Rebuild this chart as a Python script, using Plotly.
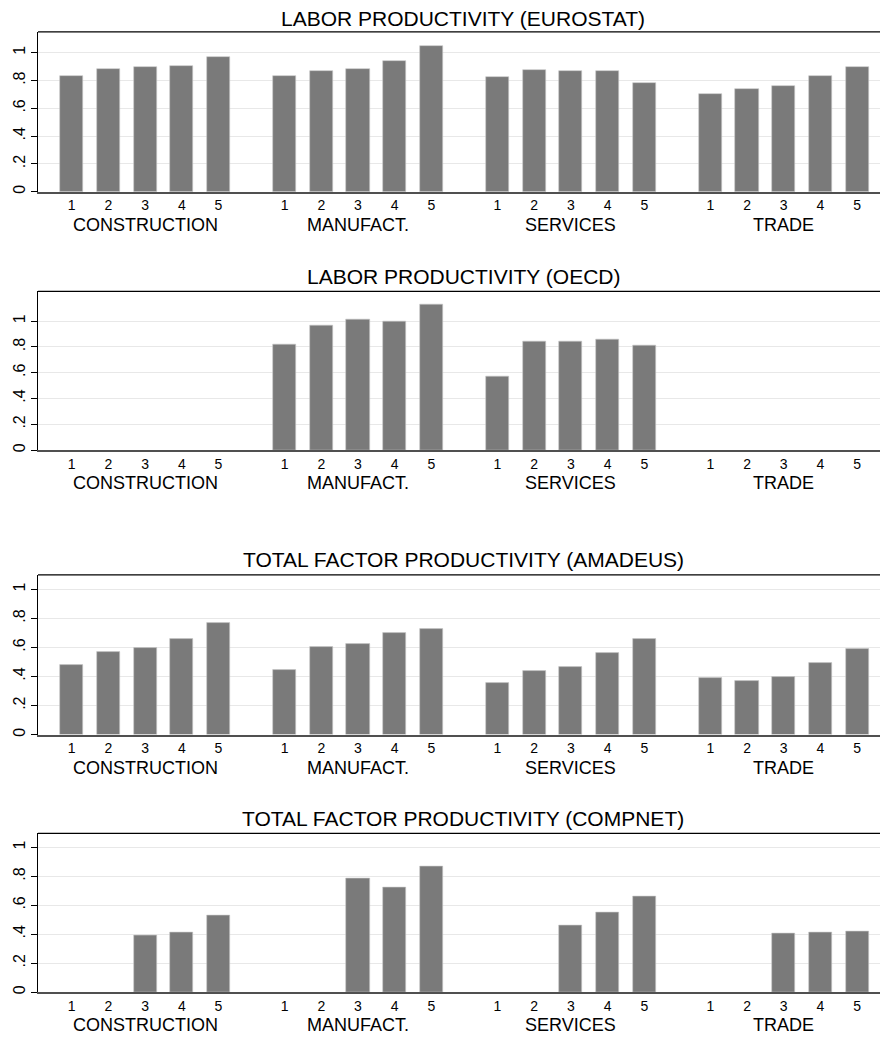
import plotly.graph_objects as go

# ---------------- data ----------------
groups = ["CONSTRUCTION", "MANUFACT.", "SERVICES", "TRADE"]
quintiles = ["1", "2", "3", "4", "5"]

titles = [
    "LABOR PRODUCTIVITY (EUROSTAT)",
    "LABOR PRODUCTIVITY (OECD)",
    "TOTAL FACTOR PRODUCTIVITY (AMADEUS)",
    "TOTAL FACTOR PRODUCTIVITY (COMPNET)",
]

lp_eurostat = {
    "CONSTRUCTION": [0.835, 0.885, 0.897, 0.904, 0.971],
    "MANUFACT.":    [0.833, 0.868, 0.885, 0.940, 1.048],
    "SERVICES":     [0.825, 0.875, 0.870, 0.870, 0.784],
    "TRADE":        [0.705, 0.743, 0.763, 0.835, 0.899],
}
lp_oecd = {
    "CONSTRUCTION": [None, None, None, None, None],
    "MANUFACT.":    [0.819, 0.969, 1.011, 1.000, 1.132],
    "SERVICES":     [0.574, 0.843, 0.843, 0.861, 0.809],
    "TRADE":        [None, None, None, None, None],
}
tfp_amadeus = {
    "CONSTRUCTION": [0.480, 0.572, 0.598, 0.662, 0.772],
    "MANUFACT.":    [0.446, 0.605, 0.626, 0.701, 0.729],
    "SERVICES":     [0.357, 0.439, 0.467, 0.563, 0.660],
    "TRADE":        [0.391, 0.370, 0.398, 0.494, 0.591],
}
tfp_compnet = {
    "CONSTRUCTION": [None, None, 0.395, 0.416, 0.533],
    "MANUFACT.":    [None, None, 0.786, 0.726, 0.869],
    "SERVICES":     [None, None, 0.462, 0.552, 0.662],
    "TRADE":        [None, None, 0.407, 0.414, 0.421],
}
panels = [lp_eurostat, lp_oecd, tfp_amadeus, tfp_compnet]

ytick_vals = [0, 0.2, 0.4, 0.6, 0.8, 1]
ytick_text = ["0", ".2", ".4", ".6", ".8", "1"]
y_tops = [1.15, 1.23, 1.10, 1.097]

# ---------------- layout helpers ----------------
OFF = 8                      # page body margin
W = 888 - OFF
H = 1039 - OFF
pix = [(32, 192), (292, 451), (576, 736), (835, 994)]   # page pixel rows of each plot area
GROUP_STEP = 5.8
BAR_COLOR = "rgb(122,122,122)"
FONT = "Liberation Sans, Arial, sans-serif"

fig = go.Figure()
tickvals = []
ticktext = []
for gi, g in enumerate(groups):
    for qi, q in enumerate(quintiles):
        tickvals.append(gi * GROUP_STEP + qi)
        ticktext.append(q)

layout = dict(
    width=W, height=H,
    margin=dict(l=0, r=0, t=0, b=0),
    paper_bgcolor="white", plot_bgcolor="white",
    showlegend=False,
    font=dict(family=FONT, color="black"),
    bargap=0,
)
annotations = []
shapes = []

for pi, data in enumerate(panels):
    n = "" if pi == 0 else str(pi + 1)
    xa, ya = "x" + n, "y" + n
    xs, ys = [], []
    for gi, g in enumerate(groups):
        for qi in range(len(quintiles)):
            xs.append(gi * GROUP_STEP + qi)
            ys.append(data[g][qi])
    fig.add_trace(go.Bar(
        x=xs, y=ys, xaxis=xa, yaxis=ya, width=0.63,
        marker=dict(color=BAR_COLOR, line=dict(color="rgb(200,200,200)", width=0.6)),
        hoverinfo="skip",
    ))
    top, bot = pix[pi]
    top -= OFF
    bot -= OFF
    dom_y = [1 - bot / H, 1 - top / H]
    layout["xaxis" + n] = dict(
        domain=[(38 - OFF) / W, 1.0], anchor=ya,
        range=[-0.918, 22.24],
        tickmode="array", tickvals=tickvals, ticktext=ticktext,
        tickfont=dict(size=14, family=FONT, color="black"),
        ticks="", showgrid=False, zeroline=False,
        showline=True, linecolor="rgb(80,80,80)", linewidth=2,
        fixedrange=True,
    )
    layout["yaxis" + n] = dict(
        domain=dom_y, anchor=xa,
        range=[0, y_tops[pi]],
        tickmode="array", tickvals=ytick_vals, ticktext=ytick_text,
        tickangle=-90,
        tickfont=dict(size=16, family=FONT, color="black"),
        ticks="outside", ticklen=6, tickcolor="black", tickwidth=1,
        showgrid=True, gridcolor="rgb(232,232,232)", gridwidth=1.4,
        zeroline=False, showline=True, linecolor="black", linewidth=1,
        fixedrange=True,
    )
    # title
    if pi == 0:
        annotations.append(dict(
            text=titles[pi], xref="x domain", yref="paper",
            x=0.5, y=1, yanchor="top", xanchor="center", yshift=3,
            showarrow=False, font=dict(size=21, family=FONT, color="black"),
        ))
    else:
        annotations.append(dict(
            text=titles[pi], xref="x" + n + " domain", yref="y" + n + " domain",
            x=0.5, y=1, yanchor="middle", xanchor="center", yshift=15,
            showarrow=False, font=dict(size=21, family=FONT, color="black"),
        ))
    # group labels
    for gi, g in enumerate(groups):
        annotations.append(dict(
            text=g, xref=xa, yref="y" + n + " domain",
            x=gi * GROUP_STEP + 2, y=0, yanchor="middle", xanchor="center",
            yshift=-33, showarrow=False,
            font=dict(size=18, family=FONT, color="black"),
        ))
    # top frame line
    shapes.append(dict(
        type="line", xref="x" + n + " domain", yref="y" + n + " domain",
        x0=0, x1=1, y0=1, y1=1, line=dict(color="black", width=1.2),
    ))

layout["annotations"] = annotations
layout["shapes"] = shapes
fig.update_layout(**layout)
fig.write_html("out.html")
